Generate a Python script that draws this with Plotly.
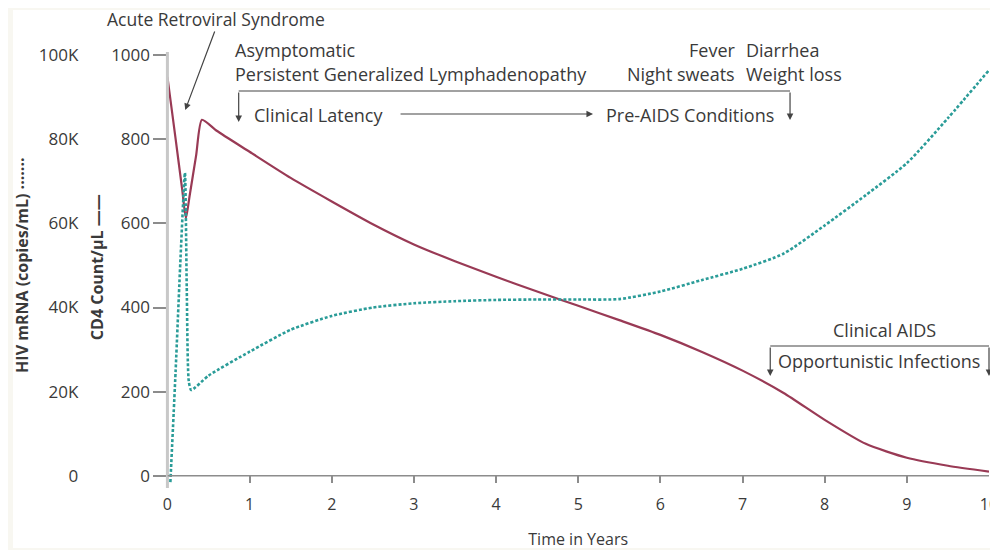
import plotly.graph_objects as go

# ---------------- data ----------------
cd4_years = [0, 0.1, 0.18, 0.225, 0.27, 0.35, 0.42, 0.6, 1, 1.5, 2, 2.5, 3, 3.5, 4, 4.5, 5, 5.5, 6, 6.5, 7, 7.5, 8, 8.5, 9, 9.5, 10]
cd4_count = [948, 800, 680, 612, 665, 762, 846, 820, 770, 708, 652, 598, 550, 510, 473, 438, 404, 370, 335, 295, 250, 197, 133, 76, 43, 24, 10]

hiv_years = [0.036, 0.1, 0.16, 0.213, 0.235, 0.26, 0.29, 0.5, 1, 1.5, 2, 2.5, 3, 3.5, 4, 4.5, 5, 5.5, 6, 6.5, 7, 7.5, 8, 8.5, 9, 9.5, 10]
hiv_rna = [-1500, 25000, 52000, 72000, 45000, 22500, 20400, 23800, 29500, 34700, 38000, 40000, 41000, 41500, 41800, 41900, 41900, 42000, 43800, 46500, 49200, 52800, 59500, 66700, 74300, 85000, 96400]

x_ticks = list(range(0, 11))
cd4_ticks = [0, 200, 400, 600, 800, 1000]
hiv_ticks = [0, 20000, 40000, 60000, 80000, 100000]
hiv_tick_labels = ["0", "20K", "40K", "60K", "80K", "100K"]

# ---------------- geometry helpers (page pixel -> paper) ----------------
OFF = 8                      # page margin of the html body
W, H = 990, 542
ML, MR, MT, MB = 0, 4, 47, 67
PW = W - ML - MR
PH = H - MT - MB


def px(x):
    return (x - OFF - ML) / PW


def py(y):
    return (H - MB - (y - OFF)) / PH


FONT = "Open Sans"
TXT = "#3a3a3a"
CD4_COLOR = "#993a55"
HIV_COLOR = "#2a9c98"
AX_GRAY = "#8c8c8c"

fig = go.Figure()
fig.add_trace(go.Scatter(
    x=cd4_years, y=cd4_count, mode="lines",
    line=dict(color=CD4_COLOR, width=2.2, shape="spline", smoothing=0.6),
    yaxis="y", showlegend=False, hoverinfo="skip"))
fig.add_trace(go.Scatter(
    x=hiv_years, y=hiv_rna, mode="lines",
    line=dict(color=HIV_COLOR, width=2.6, dash="3px,2px", shape="spline", smoothing=0.6),
    yaxis="y2", showlegend=False, hoverinfo="skip"))

fig.update_layout(
    width=W, height=H,
    margin=dict(l=ML, r=MR, t=MT, b=MB),
    paper_bgcolor="#f8f7f1",
    plot_bgcolor="rgba(0,0,0,0)",
    font=dict(family=FONT, color=TXT, size=17),
    xaxis=dict(
        domain=[px(164), 1], range=[0, 10],
        tickvals=x_ticks, ticks="inside", ticklen=7, tickwidth=1.5, tickcolor=AX_GRAY,
        showline=False, showgrid=False, zeroline=False,
        tickfont=dict(size=16, color=TXT), ticklabelstandoff=10,
        ticklabeloverflow="allow",
        title=dict(text="Time in Years", font=dict(size=16, color=TXT), standoff=19),
    ),
    yaxis=dict(
        range=[-17, 1000], tickvals=cd4_ticks, ticks="outside", ticklen=13,
        tickwidth=1.5, tickcolor=AX_GRAY,
        showline=False, showgrid=False, zeroline=False,
        tickfont=dict(size=17, color=TXT), anchor="x",
    ),
    yaxis2=dict(
        range=[-1700, 100000], overlaying="y", anchor="free", position=px(74), side="left",
        tickvals=hiv_ticks, ticktext=hiv_tick_labels, ticks="",
        showline=False, showgrid=False, zeroline=False,
        tickfont=dict(size=17, color=TXT),
    ),
)

shapes = []
# white panel
shapes.append(dict(type="rect", xref="paper", yref="paper", x0=px(8), x1=px(997), y0=py(548), y1=py(10),
                   fillcolor="white", line=dict(width=0), layer="below"))
# vertical axis line
shapes.append(dict(type="line", xref="paper", yref="paper", x0=px(164), x1=px(164), y0=py(488), y1=py(52),
                   line=dict(color="#c8c8c8", width=3)))
# horizontal axis line at 0
shapes.append(dict(type="line", xref="x", yref="y", x0=0, x1=10, y0=0, y1=0,
                   line=dict(color=AX_GRAY, width=1.5)))
LINE = dict(color="#444444", width=1.2)
# bracket for clinical latency / pre-AIDS
shapes.append(dict(type="line", xref="paper", yref="paper", x0=px(236), x1=px(793), y0=py(91), y1=py(91), line=LINE))
# bracket for clinical AIDS
shapes.append(dict(type="line", xref="paper", yref="paper", x0=px(773), x1=px(994), y0=py(346), y1=py(346), line=LINE))
fig.update_layout(shapes=shapes)


def text(t, x, y, xanchor="left", size=18):
    fig.add_annotation(text=t, xref="paper", yref="paper", x=px(x), y=py(y),
                       xanchor=xanchor, yanchor="middle", showarrow=False, borderpad=0,
                       font=dict(size=size, color=TXT, family=FONT))


def arrow(x_head, y_head, x_tail, y_tail):
    fig.add_annotation(text="", xref="paper", yref="paper", x=px(x_head), y=py(y_head),
                       ax=x_tail - x_head, ay=y_tail - y_head, axref="pixel", ayref="pixel",
                       showarrow=True, arrowhead=2, arrowsize=1.1, arrowwidth=1.2,
                       arrowcolor="#444444", standoff=0, startstandoff=0)


text("Acute Retroviral Syndrome", 102, 19, size=17.5)
arrow(182, 110, 212, 30)
text("Asymptomatic", 231, 50)
text("Persistent Generalized Lymphadenopathy", 231, 74)
text("Fever", 738, 50, "right")
text("Diarrhea", 748, 50)
text("Night sweats", 738, 74, "right")
text("Weight loss", 748, 74)
arrow(236, 122, 236, 91)
arrow(793, 120, 793, 91)
text("Clinical Latency", 250, 115)
arrow(594, 114, 400, 114)
text("Pre-AIDS Conditions", 606, 115)
text("Clinical AIDS", 888, 330, "center")
arrow(773, 376, 773, 346)
arrow(994, 376, 994, 346)
text("Opportunistic Infections", 780, 361)

# axis titles (rotated)
fig.add_annotation(text="<b>CD4 Count/μL ——</b>", xref="paper", yref="paper", x=px(93), y=py(267),
                   textangle=-90, showarrow=False, xanchor="center", yanchor="middle",
                   font=dict(size=16, color=TXT, family=FONT))
fig.add_annotation(text="<b>HIV mRNA (copies/mL) ·······</b>", xref="paper", yref="paper", x=px(17), y=py(265),
                   textangle=-90, showarrow=False, xanchor="center", yanchor="middle",
                   font=dict(size=16, color=TXT, family=FONT))

fig.write_html("out.html")
